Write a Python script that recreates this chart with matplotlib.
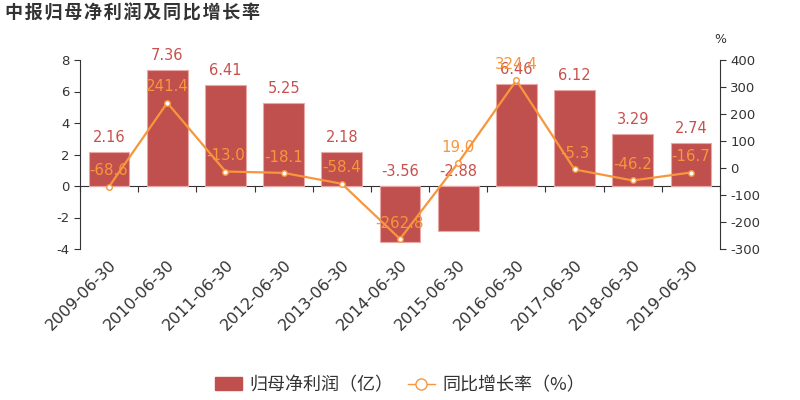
import numpy as np
import matplotlib
matplotlib.use("Agg")
import matplotlib.pyplot as plt
from matplotlib.lines import Line2D
from matplotlib.patches import FancyBboxPatch

plt.rcParams['font.family'] = ['Noto Sans CJK SC', 'DejaVu Sans']
plt.rcParams['axes.unicode_minus'] = False

dates = ["2009-06-30", "2010-06-30", "2011-06-30", "2012-06-30", "2013-06-30", "2014-06-30",
         "2015-06-30", "2016-06-30", "2017-06-30", "2018-06-30", "2019-06-30"]
profit = [2.16, 7.36, 6.41, 5.25, 2.18, -3.56, -2.88, 6.46, 6.12, 3.29, 2.74]
growth = [-68.6, 241.4, -13.0, -18.1, -58.4, -262.8, 19.0, 324.4, -5.3, -46.2, -16.7]
title = "中报归母净利润及同比增长率"

BAR = "#c0504d"
LINE = "#f7963c"
TXT = "#333333"
NUM = "DejaVu Sans"

fig = plt.figure(figsize=(8, 4), dpi=100)
ax = fig.add_axes([0.1, 0.3775, 0.8, 0.4725])
x = np.arange(len(dates))

ax.bar(x, profit, width=0.7, color=BAR, edgecolor="#e8a8a6", linewidth=0.8, zorder=2)
for xi, v in zip(x, profit):
    ax.annotate(f"{v:.2f}", (xi, max(v, 0)), xytext=(0, 5), textcoords="offset points",
                ha="center", va="bottom", color="#c8504d", fontsize=10.5, family=NUM)

ax.set_xlim(-0.5, len(dates) - 0.5)
ax.set_ylim(-4, 8)
ax.set_yticks(np.arange(-4, 9, 2))
ax.tick_params(axis="y", colors=TXT, labelsize=9.5, length=4, direction="out")
for t in ax.get_yticklabels():
    t.set_family(NUM)
ax.set_xticks(x)
ax.set_xticklabels(dates, rotation=45, ha="right", rotation_mode="anchor", fontsize=11.5, color=TXT,
                   family=NUM)
ax.tick_params(axis="x", length=0, pad=6)
for s in ["top", "right", "bottom"]:
    ax.spines[s].set_visible(False)
ax.spines["left"].set_color(TXT)

# zero axis line with ticks at category boundaries
zx = ax.secondary_xaxis(4 / 12)
zx.set_xticks(np.arange(-0.5, len(dates), 1.0))
zx.set_xticklabels([])
zx.tick_params(length=4, direction="out", color=TXT)
zx.spines["bottom"].set_color(TXT)

ax2 = ax.twinx()
ax2.plot(x, growth, color=LINE, lw=1.6, marker="o", ms=4, mfc="white", mec=LINE, mew=1, zorder=3)
for xi, v in zip(x, growth):
    ax2.annotate(f"{v:.1f}", (xi, v), xytext=(0, 6), textcoords="offset points",
                 ha="center", va="bottom", color=LINE, fontsize=10.8, family=NUM)
ax2.set_ylim(-300, 400)
ax2.set_yticks(np.arange(-300, 401, 100))
ax2.tick_params(axis="y", colors=TXT, labelsize=9.5, length=4, direction="out")
for t in ax2.get_yticklabels():
    t.set_family(NUM)
for s in ["top", "left", "bottom"]:
    ax2.spines[s].set_visible(False)
ax2.spines["right"].set_color(TXT)
ax2.text(1.0, 1.075, "%", transform=ax2.transAxes, ha="center", va="bottom", fontsize=9,
         color=TXT, family=NUM)

# hair spaces between the characters for the wider letter spacing
fig.text(0.006, 0.967, "\u200a".join(title), fontsize=13, fontweight="bold", color=TXT,
         va="center", ha="left")

handles = [FancyBboxPatch((0, 0), 1, 1, boxstyle="round,pad=0.1", color=BAR),
           Line2D([], [], color=LINE, lw=1, marker="o", ms=8, mfc="white", mec=LINE)]
fig.legend(handles, ["归母净利润（亿）", "同比增长率（%）"], loc="center", bbox_to_anchor=(0.5, 0.0375),
           ncol=2, frameon=False, fontsize=13, handlelength=1.5, handletextpad=0.4,
           columnspacing=0.8, labelcolor=TXT)

fig.savefig("out.png", dpi=100)
